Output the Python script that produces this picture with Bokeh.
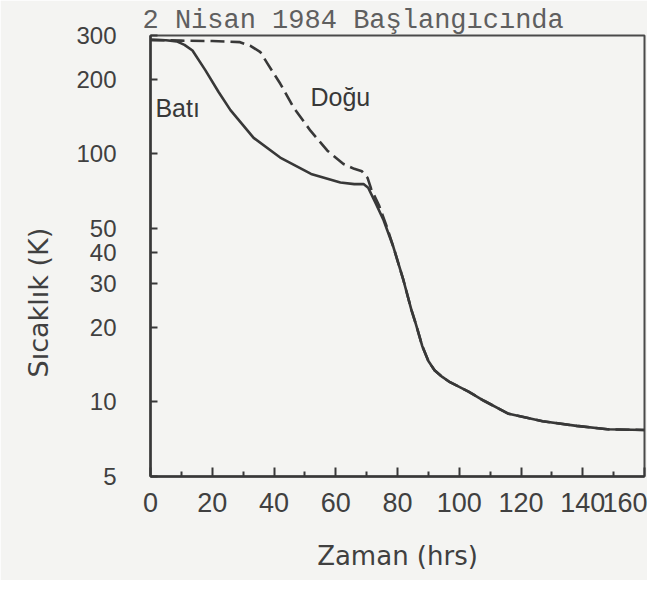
from bokeh.plotting import figure
from bokeh.models import FixedTicker, Label, Title
from bokeh.embed import file_html
from bokeh.resources import INLINE

# ---- data ----
bati_x = [0, 5, 8.5, 11, 13.6, 17.8, 22, 25.9, 33.4, 42, 52, 61.5, 66, 69, 70.5, 73, 75.5, 78.7,
          81.9, 84.5, 86, 88, 90, 92, 94.5, 97, 103, 108, 116, 127, 138, 148, 160]
bati_y = [288, 287, 284, 275, 261, 217, 178, 150, 116, 96.6, 83, 76.6, 75.5, 75.5, 73, 63, 54, 42,
          31, 23.5, 20.5, 16.8, 14.6, 13.4, 12.6, 12.0, 11.0, 10.1, 8.95, 8.35, 8.0, 7.75, 7.7]

dogu_x = [0, 5, 10, 20, 29, 32.5, 35.6, 38, 42, 46.3, 51.8, 57.3, 62.5, 66, 68.5, 70.3, 71.5,
          74, 76.5, 78.7, 81.9, 84.5, 86, 88, 90, 92, 94.5, 97, 103, 108, 116, 127, 138, 148, 160]
dogu_y = [288, 287, 286, 285, 282, 272, 257, 230, 192, 154, 124, 103, 91, 87, 85, 80, 72,
          62, 51, 42, 31, 23.5, 20.5, 16.8, 14.6, 13.4, 12.6, 12.0, 11.0, 10.1, 8.95, 8.35, 8.0, 7.75, 7.7]

x_ticks = [0, 20, 40, 60, 80, 100, 120, 140, 160]
x_minor = [10, 30, 50, 70, 90, 110, 130, 150]
x_tick_labels = ["0", "20", "40", "60", "80", "100", "120", "140", "160"]
y_ticks = [5, 10, 20, 30, 40, 50, 100, 200, 300]
y_tick_labels = ["5", "10", "20", "30", "40", "50", "100", "200", "300"]

title_text = "2 Nisan 1984 Başlangıcında"
x_title = "Zaman (hrs)"
y_title = "Sıcaklık (K)"
series_names = ["Batı", "Doğu"]

INK = "#383838"
TXT = "#404040"
PAPER = "#f4f4f2"

p = figure(width=647, height=580, y_axis_type="log",
           x_range=(0, 160), y_range=(5, 300),
           output_backend="svg", toolbar_location=None,
           min_border_left=150, min_border_right=3,
           min_border_top=35, min_border_bottom=104)
p.background_fill_color = PAPER
p.border_fill_color = PAPER
p.outline_line_color = "#4a4a4a"
p.outline_line_width = 2
p.grid.visible = False

# header (typewriter text above the frame)
p.title.text = title_text
p.title.align = "left"
p.title.offset = -8
p.title.standoff = 0
p.title.vertical_align = "bottom"
p.title.text_font = "Liberation Mono"
p.title.text_font_size = "27px"
p.title.text_font_style = "normal"
p.title.text_color = "#5f5f5f"

# x axis
xa = p.xaxis[0]
xa.ticker = FixedTicker(ticks=x_ticks, minor_ticks=x_minor)
xa.major_label_overrides = {t: l for t, l in zip(x_ticks, x_tick_labels)}
xa.axis_line_width = 2.5
xa.axis_line_color = INK
xa.major_tick_in = 9
xa.major_tick_out = 0
xa.minor_tick_in = 5
xa.minor_tick_out = 0
xa.major_tick_line_width = 2
xa.minor_tick_line_width = 2
xa.major_tick_line_color = INK
xa.minor_tick_line_color = INK
xa.major_label_text_font = "Liberation Sans"
xa.major_label_text_font_size = "27px"
xa.major_label_text_color = TXT
xa.major_label_standoff = 16
xa.axis_label = x_title
xa.axis_label_text_font = "DejaVu Sans"
xa.axis_label_text_font_size = "26px"
xa.axis_label_text_font_style = "normal"
xa.axis_label_text_color = TXT
xa.axis_label_standoff = 26

# y axis
ya = p.yaxis[0]
ya.ticker = FixedTicker(ticks=y_ticks)
ya.major_label_overrides = {t: l for t, l in zip(y_ticks, y_tick_labels)}
ya.axis_line_width = 2.5
ya.axis_line_color = INK
ya.major_tick_in = 7
ya.major_tick_out = 0
ya.major_tick_line_width = 2
ya.major_tick_line_color = INK
ya.minor_tick_line_color = None
ya.major_label_text_font = "Liberation Sans"
ya.major_label_text_font_size = "24px"
ya.major_label_text_color = TXT
ya.major_label_standoff = 34

# y title on the left, placed lower like the hand lettering
p.add_layout(Title(text=y_title, align="left", offset=99, standoff=40,
                   text_font="DejaVu Sans", text_font_size="27px",
                   text_font_style="normal", text_color=TXT), "left")

# curves
p.line(bati_x, bati_y, line_color=INK, line_width=2.6, line_join="round")
p.line(dogu_x, dogu_y, line_color=INK, line_width=2.6, line_dash="14 6", line_join="round")

# curve names
p.add_layout(Label(x=1.6, y=153, text=series_names[0], text_font="Liberation Sans",
                   text_font_size="25px", text_color=INK, text_baseline="alphabetic"))
p.add_layout(Label(x=51.8, y=170, text=series_names[1], text_font="Liberation Sans",
                   text_font_size="25px", text_color=INK, text_baseline="alphabetic"))

open("out.html", "w").write(file_html(p, INLINE))
